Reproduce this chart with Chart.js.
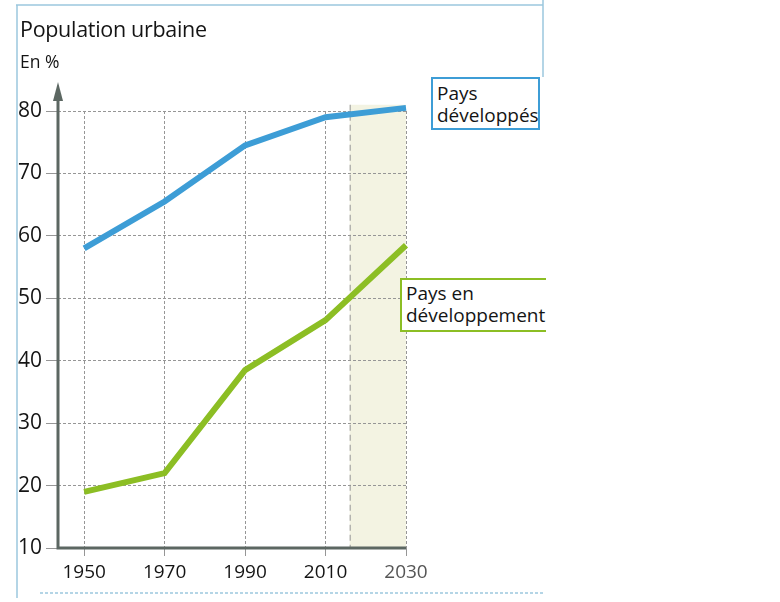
<!DOCTYPE html>
<html>
<head>
<meta charset="utf-8">
<script src="https://cdn.jsdelivr.net/npm/chart.js@4"></script>
<style>
  html, body { margin: 0; padding: 0; background: #fff; }
  #wrap { position: relative; width: 780px; height: 602px; overflow: hidden; font-family: "Open Sans", sans-serif; color: #141414; }
  #c { position: absolute; left: 0; top: 0; }
  .txt { position: absolute; white-space: nowrap; }
  #title { left: 20px; top: 18px; font-size: 21.5px; line-height: 21px; letter-spacing: -0.3px; }
  #unit { left: 20px; top: 53px; font-size: 17.5px; line-height: 17px; }
  .box { position: absolute; box-sizing: border-box; background: #fff; font-size: 19px; line-height: 22px; white-space: nowrap; }
  #boxDev { left: 431px; top: 77px; width: 109px; height: 53px; border: 2px solid #3d9dd6; padding: 3px 0 0 4px; }
  #boxDvp { left: 400px; top: 278px; width: 146px; height: 54px; border: 2px solid #8cbe24; border-right: none; padding: 2px 0 0 4px; }
</style>
</head>
<body>
<div id="wrap">
  <canvas id="c" width="780" height="602"></canvas>
  <div class="txt" id="title">Population urbaine</div>
  <div class="txt" id="unit">En %</div>
  <div class="box" id="boxDev">Pays<br>développés</div>
  <div class="box" id="boxDvp">Pays en<br>développement</div>
</div>
<script>
// ---- data ----
const years = [1950, 1970, 1990, 2010, 2030];
const developed = [58, 65.5, 74.5, 79, 80.5];
const developing = [19, 22, 38.5, 46.5, 58.5];
const yTicks = [10, 20, 30, 40, 50, 60, 70, 80];
const projectionStart = 2016;
const projectionEnd = 2030;
const projectionTop = 81;

const BLUE = '#3d9dd6';
const GREEN = '#8cbe24';
const GRID = '#969696';
const AXIS = '#5c6762';

const decor = {
  id: 'decor',
  beforeDraw(chart) {
    const { ctx, scales: { x, y } } = chart;
    const x0 = x.getPixelForValue(projectionStart);
    const x1 = x.getPixelForValue(projectionEnd);
    const yt = y.getPixelForValue(projectionTop);
    const yb = y.getPixelForValue(10);
    ctx.save();
    ctx.fillStyle = '#f3f3e2';
    ctx.fillRect(x0, yt, x1 - x0, yb - yt);
    ctx.strokeStyle = GRID;
    ctx.lineWidth = 1;
    ctx.setLineDash([6, 4]);
    ctx.beginPath();
    ctx.moveTo(x0 + 0.5, yt);
    ctx.lineTo(x0 + 0.5, yb);
    ctx.stroke();
    ctx.restore();
  },
  beforeDatasetsDraw(chart) {
    const { ctx, chartArea: a } = chart;
    ctx.save();
    ctx.strokeStyle = AXIS;
    ctx.fillStyle = AXIS;
    ctx.lineWidth = 3;
    ctx.beginPath();
    ctx.moveTo(a.left, a.bottom);
    ctx.lineTo(a.right, a.bottom);
    ctx.moveTo(a.left, a.bottom + 1.5);
    ctx.lineTo(a.left, 98);
    ctx.stroke();
    ctx.beginPath();
    ctx.moveTo(a.left, 82);
    ctx.lineTo(a.left - 5, 101);
    ctx.lineTo(a.left + 5, 101);
    ctx.closePath();
    ctx.fill();
    ctx.restore();
  },
  afterDraw(chart) {
    const { ctx } = chart;
    ctx.save();
    ctx.strokeStyle = '#9cc8de';
    ctx.lineWidth = 1.5;
    ctx.beginPath();
    ctx.moveTo(17, 5); ctx.lineTo(17, 598);
    ctx.moveTo(16, 5); ctx.lineTo(543, 5);
    ctx.moveTo(543, 0); ctx.lineTo(543, 77);
    ctx.stroke();
    ctx.setLineDash([3, 2]);
    ctx.beginPath();
    ctx.moveTo(40, 593); ctx.lineTo(543, 593);
    ctx.stroke();
    ctx.restore();
  }
};

new Chart(document.getElementById('c'), {
  type: 'line',
  data: {
    datasets: [
      { label: 'Pays développés', data: years.map((v, i) => ({ x: v, y: developed[i] })),
        borderColor: BLUE, borderWidth: 6, pointRadius: 0, tension: 0, clip: false, fill: false },
      { label: 'Pays en développement', data: years.map((v, i) => ({ x: v, y: developing[i] })),
        borderColor: GREEN, borderWidth: 6, pointRadius: 0, tension: 0, clip: false, fill: false }
    ]
  },
  options: {
    responsive: false,
    animation: false,
    devicePixelRatio: 1,
    layout: { padding: { left: 0, right: 374, top: 111, bottom: 0 } },
    plugins: { legend: { display: false }, tooltip: { enabled: false }, title: { display: false } },
    scales: {
      x: {
        type: 'linear', min: 1943.5, max: 2030,
        afterBuildTicks: s => { s.ticks = years.map(v => ({ value: v })); },
        afterFit: s => { s.height = 54; },
        grid: { color: GRID, lineWidth: 1, tickLength: 8, drawTicks: true },
        border: { display: false, dash: [3, 2] },
        ticks: {
          autoSkip: false, maxRotation: 0, padding: 5,
          font: { family: 'Open Sans', size: 19 },
          color: c => (c.tick && c.tick.value === 2030) ? '#555555' : '#141414',
          callback: v => String(v)
        }
      },
      y: {
        min: 10, max: 80,
        afterBuildTicks: s => { s.ticks = yTicks.map(v => ({ value: v })); },
        afterFit: s => { s.width = 58; },
        grid: { color: GRID, lineWidth: 1, tickLength: 12, drawTicks: true },
        border: { display: false, dash: [3, 2] },
        ticks: {
          padding: 4,
          font: { family: 'Open Sans', size: 21 },
          color: '#141414'
        }
      }
    }
  },
  plugins: [decor]
});
</script>
</body>
</html>
